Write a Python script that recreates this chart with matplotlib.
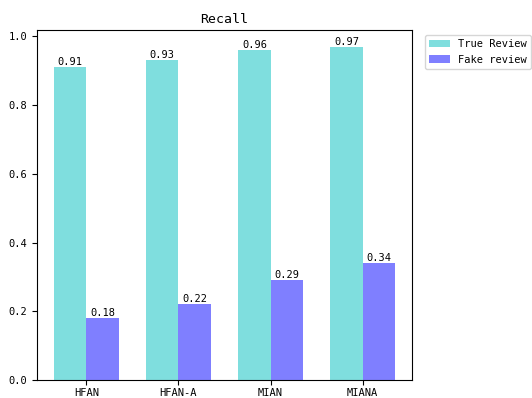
import numpy as np
import matplotlib.pyplot as plt

plt.rcParams['font.family'] = ['DejaVu Sans Mono']
plt.rcParams['font.size'] = 7.5

models = ["HFAN", "HFAN-A", "MIAN", "MIANA"]
true_recall = [0.91, 0.93, 0.96, 0.97]
fake_recall = [0.18, 0.22, 0.29, 0.34]

x = np.arange(len(models))
w = 0.35

fig = plt.figure(figsize=(5.32, 3.98), dpi=100)
ax = fig.add_axes([37 / 532, 18 / 398, 375 / 532, 350 / 398])

b1 = ax.bar(x - w / 2, true_recall, w, color='c', alpha=0.5, label='True Review')
b2 = ax.bar(x + w / 2, fake_recall, w, color='b', alpha=0.5, label='Fake review')

for bars in (b1, b2):
    for r in bars:
        h = r.get_height()
        ax.text(r.get_x() + r.get_width() / 2, h, '%.2f' % h, ha='center', va='bottom')

ax.set_xticks(x)
ax.set_xticklabels(models)
ax.tick_params(axis='x', pad=2.5)
ax.set_title('Recall', fontsize=9.5, pad=5)
ax.legend(loc='upper left', bbox_to_anchor=(1.02, 1.0))

fig.savefig('out.png', dpi=100)
